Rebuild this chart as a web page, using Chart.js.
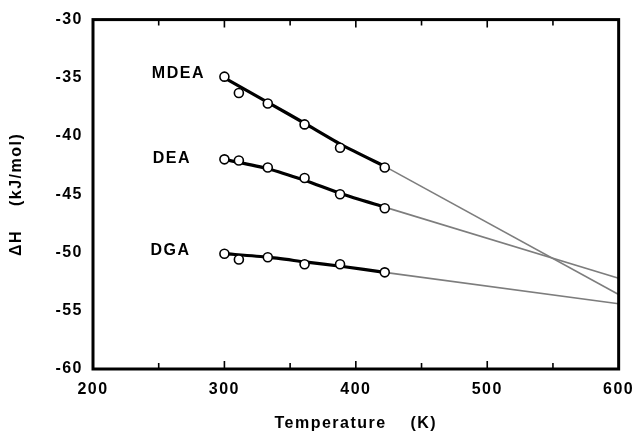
<!DOCTYPE html>
<html>
<head>
<meta charset="utf-8">
<script src="https://cdn.jsdelivr.net/npm/chart.js@4/dist/chart.umd.min.js"></script>
<style>
  html, body { margin: 0; padding: 0; background: #fff; }
  #wrap { width: 643px; height: 434px; }
</style>
</head>
<body>
<div id="wrap"><canvas id="chart"></canvas></div>
<script>
// measured points (temperature K, enthalpy kJ/mol)
const temps = [300, 311, 333, 361, 388, 422];
const mdeaH = [-34.9, -36.3, -37.2, -39.0, -41.0, -42.7];
const deaH = [-42.0, -42.1, -42.7, -43.6, -45.0, -46.2];
const dgaH = [-50.1, -50.6, -50.4, -51.0, -51.0, -51.7];

// heavy fitted curves over the measured range
const fitT = [300, 333, 361, 390, 422];
const mdeaFit = [-35.0, -37.1, -38.9, -40.8, -42.6];
const deaFit = [-42.0, -42.8, -43.8, -45.0, -46.1];
const dgaFit = [-50.1, -50.4, -50.8, -51.2, -51.7];

// thin extrapolations to 600 K
const extT = [422, 600];
const mdeaExt = [-42.6, -53.6];
const deaExt = [-46.1, -52.2];
const dgaExt = [-51.7, -54.4];

// curve names and where they sit
const names = ["MDEA", "DEA", "DGA"];
const nameT = [265, 260, 259];
const nameH = [-34.6, -41.9, -49.8];

const xTicks = [200, 300, 400, 500, 600];
const yTicks = [-30, -35, -40, -45, -50, -55, -60];

const FONT = "'Liberation Sans', Arial, sans-serif";

function pts(xs, ys) {
    return xs.map((x, i) => ({ x: x, y: ys[i] }));
}

const datasets = [];
[mdeaH, deaH, dgaH].forEach((h, i) => {
    datasets.push({
        label: names[i] + " data",
        data: pts(temps, h),
        showLine: false,
        pointRadius: 4.5,
        pointBackgroundColor: "#fff",
        pointBorderColor: "#000",
        pointBorderWidth: 1.6
    });
});
[mdeaFit, deaFit, dgaFit].forEach((h, i) => {
    datasets.push({
        label: names[i] + " fit",
        data: pts(fitT, h),
        showLine: true,
        borderColor: "#000",
        borderWidth: 3.2,
        pointRadius: 0,
        tension: 0.2
    });
});
[mdeaExt, deaExt, dgaExt].forEach((h, i) => {
    datasets.push({
        label: names[i] + " extrapolated",
        data: pts(extT, h),
        showLine: true,
        borderColor: "#7d7d7d",
        borderWidth: 1.6,
        pointRadius: 0
    });
});

// frame, inward ticks on all four sides, curve names
const framePlugin = {
    id: "frame",
    beforeDraw(chart) {
        chart.ctx.letterSpacing = "1.5px";
    },
    afterDatasetsDraw(chart) {
        const ctx = chart.ctx;
        const a = chart.chartArea;
        const xs = chart.scales.x, ys = chart.scales.y;
        ctx.save();
        ctx.strokeStyle = "#000";
        ctx.lineWidth = 1.6;
        ctx.beginPath();
        for (let v = 250; v < 600; v += 50) {
            const p = xs.getPixelForValue(v);
            const len = v % 100 === 0 ? 8 : 6;
            ctx.moveTo(p, a.bottom); ctx.lineTo(p, a.bottom - len);
            ctx.moveTo(p, a.top); ctx.lineTo(p, a.top + len);
        }
        for (let v = -57.5; v > -30; v += 2.5) {
            const p = ys.getPixelForValue(v);
            const len = v % 5 === 0 ? 9 : 7;
            ctx.moveTo(a.left, p); ctx.lineTo(a.left + len, p);
            ctx.moveTo(a.right, p); ctx.lineTo(a.right - 10, p);
        }
        ctx.stroke();
        ctx.lineWidth = 3;
        ctx.strokeRect(a.left, a.top, a.right - a.left, a.bottom - a.top);

        ctx.fillStyle = "#000";
        ctx.font = "bold 16px " + FONT;
        ctx.textAlign = "center";
        ctx.textBaseline = "middle";
        names.forEach((n, i) => {
            ctx.fillText(n, xs.getPixelForValue(nameT[i]), ys.getPixelForValue(nameH[i]));
        });
        ctx.restore();
    }
};

new Chart(document.getElementById("chart"), {
    type: "scatter",
    data: { datasets: datasets },
    options: {
        responsive: true,
        maintainAspectRatio: false,
        animation: false,
        layout: { padding: { top: 18, right: 18, left: 0, bottom: 0 } },
        plugins: { legend: { display: false }, tooltip: { enabled: false } },
        scales: {
            x: {
                type: "linear",
                min: 200, max: 600,
                afterFit: s => { s.height = 65; },
                afterBuildTicks: s => { s.ticks = xTicks.map(v => ({ value: v })); },
                grid: { display: false, drawTicks: false },
                border: { display: false },
                ticks: { color: "#000", padding: 11, font: { family: FONT, size: 16, weight: "bold" } },
                title: {
                    display: true,
                    text: "Temperature    (K)",
                    color: "#000",
                    padding: { top: 0, bottom: 1 },
                    font: { family: FONT, size: 16, weight: "bold" }
                }
            },
            y: {
                type: "linear",
                min: -60, max: -30,
                afterFit: s => { s.width = 93; },
                afterBuildTicks: s => { s.ticks = yTicks.map(v => ({ value: v })); },
                grid: { display: false, drawTicks: false },
                border: { display: false },
                ticks: { color: "#000", padding: 10, font: { family: FONT, size: 16, weight: "bold" } },
                title: {
                    display: true,
                    text: "ΔH    (kJ/mol)",
                    color: "#000",
                    padding: { top: 7, bottom: 0 },
                    font: { family: FONT, size: 16, weight: "bold" }
                }
            }
        }
    },
    plugins: [framePlugin]
});
</script>
</body>
</html>
